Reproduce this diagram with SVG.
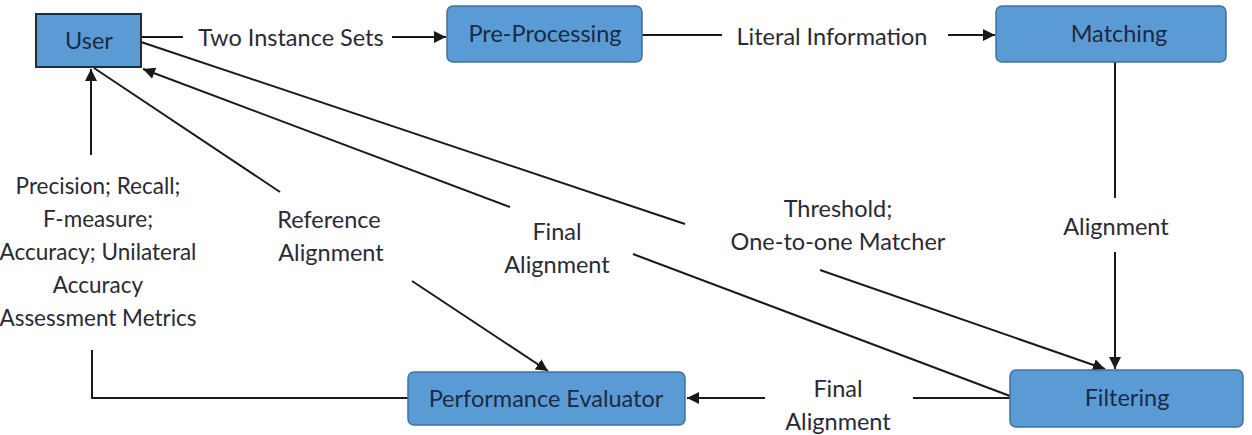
<svg xmlns="http://www.w3.org/2000/svg" width="1252" height="435" viewBox="0 0 1252 435">
<style>
.box{fill:#5b9bd5;stroke:#41719c;stroke-width:1.5}
.ubox{fill:#5b9bd5;stroke:#1f2d3d;stroke-width:2}
.bt{font-family:Lato,"Liberation Sans",sans-serif;font-size:23.5px;fill:#1b2a44;text-anchor:middle;dominant-baseline:central}
.lt{font-family:Lato,"Liberation Sans",sans-serif;font-size:23.5px;fill:#2a2a35;text-anchor:middle;dominant-baseline:central}
.mt{font-size:22.5px}
.ln{stroke:#1a1a1a;stroke-width:2;fill:none}
</style>
<defs>
<marker id="ah" viewBox="0 0 10 10" refX="10" refY="5" markerWidth="6" markerHeight="6" orient="auto" markerUnits="strokeWidth">
<path d="M0,0L10,5L0,10z" fill="#1a1a1a"/>
</marker>
</defs>
<g id="connectors">
<line class="ln" x1="141" y1="37" x2="183" y2="37"/>
<line class="ln" x1="392" y1="37" x2="446" y2="37" marker-end="url(#ah)"/>
<text class="lt" x="291" y="37">Two Instance Sets</text>
<line class="ln" x1="642" y1="35" x2="722" y2="35"/>
<line class="ln" x1="948" y1="35" x2="995" y2="35" marker-end="url(#ah)"/>
<text class="lt" x="832" y="36">Literal Information</text>
<line class="ln" x1="1115" y1="62" x2="1115" y2="198"/>
<line class="ln" x1="1115" y1="252" x2="1115" y2="369" marker-end="url(#ah)"/>
<text class="lt" x="1116" y="226">Alignment</text>
<line class="ln" x1="141" y1="42" x2="685" y2="224"/>
<line class="ln" x1="820" y1="270" x2="1105" y2="369" marker-end="url(#ah)"/>
<text class="lt" x="838" y="208">Threshold;</text>
<text class="lt" x="838" y="241">One-to-one Matcher</text>
<line class="ln" x1="1010" y1="396" x2="633" y2="254"/>
<line class="ln" x1="510" y1="207" x2="143" y2="69" marker-end="url(#ah)"/>
<text class="lt" x="557" y="231">Final</text>
<text class="lt" x="557" y="264">Alignment</text>
<line class="ln" x1="94" y1="68" x2="280" y2="192"/>
<line class="ln" x1="412" y1="281" x2="548" y2="371" marker-end="url(#ah)"/>
<text class="lt" x="329" y="219">Reference</text>
<text class="lt" x="331" y="252">Alignment</text>
<polyline class="ln" points="408,398 92,398 92,350"/>
<line class="ln" x1="91" y1="155" x2="91" y2="69" marker-end="url(#ah)"/>
<text class="lt mt" x="98" y="185">Precision; Recall;</text>
<text class="lt mt" x="98" y="218">F-measure;</text>
<text class="lt mt" x="98" y="251">Accuracy; Unilateral</text>
<text class="lt mt" x="98" y="284">Accuracy</text>
<text class="lt mt" x="98" y="317">Assessment Metrics</text>
<line class="ln" x1="1010" y1="398" x2="913" y2="398"/>
<line class="ln" x1="765" y1="398" x2="687" y2="398" marker-end="url(#ah)"/>
<text class="lt" x="838" y="388">Final</text>
<text class="lt" x="838" y="421">Alignment</text>
</g>
<g id="user"><rect class="ubox" x="36" y="14" width="105" height="53"/><text class="bt" x="89" y="40">User</text></g>
<g id="preprocessing"><rect class="box" x="447" y="6" width="195" height="56" rx="6"/><text class="bt" x="545" y="33">Pre-Processing</text></g>
<g id="matching"><rect class="box" x="996" y="6" width="230" height="56" rx="6"/><text class="bt" x="1119" y="33">Matching</text></g>
<g id="performance"><rect class="box" x="408" y="372" width="277" height="53" rx="6"/><text class="bt" x="546" y="398">Performance Evaluator</text></g>
<g id="filtering"><rect class="box" x="1010" y="370" width="233" height="57" rx="6"/><text class="bt" x="1127" y="397">Filtering</text></g>
</svg>
